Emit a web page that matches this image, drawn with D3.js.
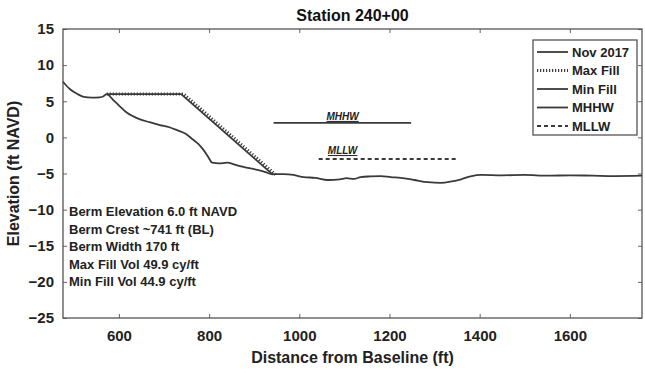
<!DOCTYPE html>
<html>
<head>
<meta charset="utf-8">
<script src="https://cdn.jsdelivr.net/npm/d3@7"></script>
<style>
  body { margin: 0; background: #fff; }
  text { font-family: "Liberation Sans", Arial, sans-serif; }
</style>
</head>
<body>
<svg id="chart" width="645" height="373"></svg>
<script>
// existing profile, Nov 2017 (distance ft, elevation ft NAVD)
const nov2017X = [476, 491, 508, 522, 540, 557, 566, 573, 587, 602, 618, 632, 647, 668, 691, 712, 729, 748, 764, 776, 787, 797, 807, 822, 840, 858, 876, 892, 907, 925, 940, 965, 987, 1010, 1035, 1063, 1090, 1105, 1121, 1136, 1158, 1181, 1203, 1225, 1255, 1285, 1314, 1338, 1359, 1380, 1403, 1450, 1500, 1550, 1600, 1650, 1700, 1760];
const nov2017Y = [7.7, 6.7, 6.0, 5.6, 5.5, 5.55, 5.7, 6.0, 5.2, 4.3, 3.4, 2.9, 2.5, 2.1, 1.7, 1.4, 1.0, 0.5, -0.3, -0.9, -1.7, -2.6, -3.5, -3.6, -3.5, -3.8, -4.1, -4.3, -4.5, -4.8, -5.1, -5.1, -5.2, -5.5, -5.6, -5.9, -5.8, -5.65, -5.75, -5.5, -5.4, -5.35, -5.5, -5.6, -5.9, -6.2, -6.3, -6.1, -5.8, -5.4, -5.2, -5.25, -5.2, -5.3, -5.25, -5.3, -5.35, -5.3];
// berm templates
const maxFillX = [573, 744, 950];
const maxFillY = [6.0, 6.0, -5.3];
const minFillX = [575, 738, 942];
const minFillY = [6.0, 6.0, -5.2];
// tidal datums
const mhhwX = [943, 1248];
const mhhwY = [2.0, 2.0];
const mllwX = [1043, 1348];
const mllwY = [-3.0, -3.0];
const datumLabelX = 1096;

const xTicks = [600, 800, 1000, 1200, 1400, 1600];
const yTicks = [15, 10, 5, 0, -5, -10, -15, -20, -25];
const legendNames = ["Nov 2017", "Max Fill", "Min Fill", "MHHW", "MLLW"];
const notes = [
  "Berm Elevation 6.0 ft NAVD",
  "Berm Crest ~741 ft (BL)",
  "Berm Width 170 ft",
  "Max Fill Vol 49.9 cy/ft",
  "Min Fill Vol 44.9 cy/ft",
];

const svg = d3.select("#chart");
const margin = { left: 63, top: 29, right: 3, bottom: 55 };
const width = 645 - margin.left - margin.right;
const height = 373 - margin.top - margin.bottom;

const x = d3.scaleLinear().domain([476, 1760]).range([0, width]);
const y = d3.scaleLinear().domain([-25, 15]).range([height, 0]);

const g = svg.append("g").attr("transform", `translate(${margin.left},${margin.top})`);

const ink = "#3a3a3a";
const line = d3.line().x((d) => x(d[0])).y((d) => y(d[1]));
const smooth = d3.line().curve(d3.curveMonotoneX).x((d) => x(d[0])).y((d) => y(d[1]));
const zipXY = (xs, ys) => xs.map((v, i) => [v, ys[i]]);

// axes, ticks pointing in (MATLAB style box)
const axisStyle = (sel) => {
  sel.select(".domain").remove();
  sel.selectAll("line").attr("stroke", "#666").attr("stroke-width", 1);
  sel.selectAll("text")
    .attr("fill", "#222")
    .style("font-size", "15px")
    .style("font-weight", "bold");
};
g.append("g")
  .attr("transform", `translate(0,${height})`)
  .call(d3.axisBottom(x).tickValues(xTicks).tickFormat(d3.format("d")).tickSizeInner(-4).tickPadding(12))
  .call(axisStyle);
g.append("g")
  .call(d3.axisTop(x).tickValues(xTicks).tickSizeInner(-4).tickFormat(""))
  .call(axisStyle);
g.append("g")
  .call(d3.axisLeft(y).tickValues(yTicks).tickSizeInner(-4).tickPadding(9))
  .call(axisStyle);
g.append("g")
  .attr("transform", `translate(${width},0)`)
  .call(d3.axisRight(y).tickValues(yTicks).tickSizeInner(-4).tickFormat(""))
  .call(axisStyle);
g.append("rect")
  .attr("width", width).attr("height", height)
  .attr("fill", "none").attr("stroke", "#555").attr("stroke-width", 1.3);

// data lines
g.append("path").datum(zipXY(nov2017X, nov2017Y))
  .attr("d", smooth).attr("fill", "none").attr("stroke", ink).attr("stroke-width", 1.8);
g.append("path").datum(zipXY(minFillX, minFillY))
  .attr("d", line).attr("fill", "none").attr("stroke", ink).attr("stroke-width", 1.8);
g.append("path").datum(zipXY(maxFillX, maxFillY))
  .attr("d", line).attr("fill", "none").attr("stroke", ink).attr("stroke-width", 3)
  .attr("stroke-dasharray", "1.2,1.8");
g.append("path").datum(zipXY(mhhwX, mhhwY))
  .attr("d", line).attr("fill", "none").attr("stroke", ink).attr("stroke-width", 1.8);
g.append("path").datum(zipXY(mllwX, mllwY))
  .attr("d", line).attr("fill", "none").attr("stroke", ink).attr("stroke-width", 2)
  .attr("stroke-dasharray", "4,3");

// datum labels
[["MHHW", mhhwY[0], 3], ["MLLW", mllwY[0], 5]].forEach(([label, v, off]) => {
  g.append("text")
    .attr("x", x(datumLabelX)).attr("y", y(v) - off)
    .attr("text-anchor", "middle")
    .style("font-size", "10px").style("font-weight", "bold").style("font-style", "italic")
    .attr("fill", "#222").attr("text-decoration", "underline")
    .text(label);
});

// annotation block
g.selectAll(".note")
  .data(notes)
  .join("text")
  .attr("class", "note")
  .attr("x", 6)
  .attr("y", (d, i) => y(-10.9) + i * 17.5)
  .style("font-size", "13px")
  .style("font-weight", "bold")
  .attr("fill", "#222")
  .text((d) => d);

// legend
const lg = svg.append("g").attr("transform", "translate(533,40)");
lg.append("rect")
  .attr("width", 104).attr("height", 95)
  .attr("fill", "#fff").attr("stroke", "#555").attr("stroke-width", 1.3);
const legendDash = [null, "1.2,1.8", null, null, "4,3"];
const legendW = [1.8, 3, 1.8, 1.8, 2];
legendNames.forEach((name, i) => {
  const yy = 12 + i * 18.5;
  lg.append("line")
    .attr("x1", 4).attr("x2", 35).attr("y1", yy).attr("y2", yy)
    .attr("stroke", ink).attr("stroke-width", legendW[i])
    .attr("stroke-dasharray", legendDash[i]);
  lg.append("text")
    .attr("x", 39).attr("y", yy + 4.5)
    .style("font-size", "13px").style("font-weight", "bold")
    .attr("fill", "#222")
    .text(name);
});

// titles
svg.append("text")
  .attr("x", margin.left + width / 2).attr("y", 21)
  .attr("text-anchor", "middle")
  .style("font-size", "16px").style("font-weight", "bold")
  .attr("fill", "#111")
  .text("Station 240+00");
svg.append("text")
  .attr("x", margin.left + width / 2).attr("y", 363)
  .attr("text-anchor", "middle")
  .style("font-size", "16px").style("font-weight", "bold")
  .attr("fill", "#222")
  .text("Distance from Baseline (ft)");
svg.append("text")
  .attr("transform", `translate(19,${margin.top + height / 2}) rotate(-90)`)
  .attr("text-anchor", "middle")
  .style("font-size", "16px").style("font-weight", "bold")
  .attr("fill", "#222")
  .text("Elevation (ft NAVD)");
</script>
</body>
</html>
